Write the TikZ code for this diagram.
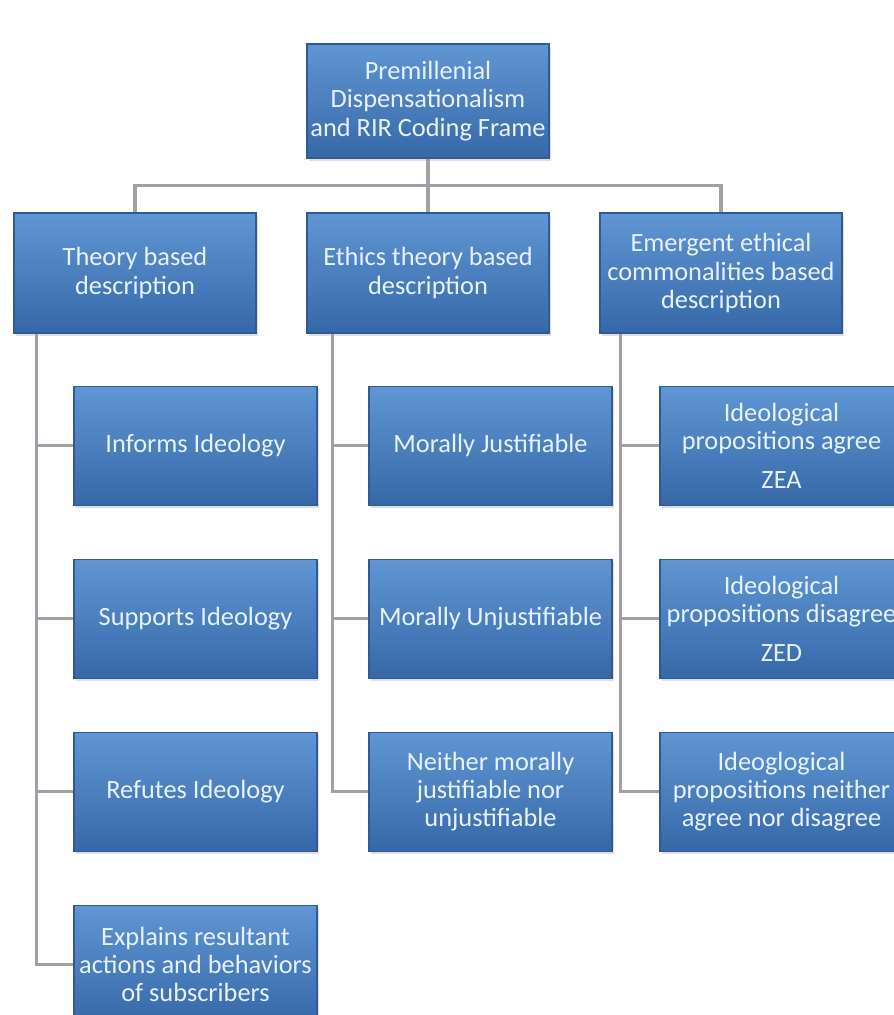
\documentclass[tikz,border=0pt]{standalone}
\usepackage{fontspec}
\setmainfont{Carlito}
\usetikzlibrary{positioning,shadows}
\definecolor{boxtop}{RGB}{96,150,212}
\definecolor{boxbot}{RGB}{54,104,168}
\definecolor{boxline}{RGB}{48,90,150}
\definecolor{boxtext}{RGB}{232,242,252}
\definecolor{linkgray}{RGB}{160,160,166}

\begin{document}
\begin{tikzpicture}[
  box/.style={rectangle, draw=boxline, line width=0.6pt,
    top color=boxtop, bottom color=boxbot, text=boxtext,
    font=\fontsize{15}{16}\selectfont, align=center, inner sep=1pt,
    minimum width=4.84cm, minimum height=2.4cm,
    drop shadow={opacity=0.25, shadow xshift=0.04cm, shadow yshift=-0.06cm}},
  leaf/.style={box, minimum width=4.86cm, minimum height=2.38cm},
  conn/.style={draw=linkgray, line width=1.8pt},
  level distance=3.44cm,
  level 1/.style={sibling distance=5.86cm},
  every child node/.style={box},
  edge from parent/.style={conn},
  edge from parent path={(\tikzparentnode.south) -- ++(0,-0.54) -| (\tikzchildnode.north)}]
  \useasboundingbox (0,0) rectangle (17.88,-20.3);
  \clip (0,0) rectangle (17.88,-20.3);

  % coding frame tree
  \node[box, minimum height=2.28cm] (frame) at (8.56,-2.02)
    {Premillenial\\Dispensationalism\\and RIR Coding Frame}
    child {node (theory) {Theory based\\description}}
    child {node (ethics) {Ethics theory based\\description}}
    child {node (emergent) {Emergent ethical\\commonalities based\\description}};

  % theory based column
  \node[leaf, below=1.04cm of theory.south west, anchor=north west, xshift=1.2cm] (informs) {Informs Ideology};
  \node[leaf, below=1.06cm of informs] (supports) {Supports Ideology};
  \node[leaf, below=1.06cm of supports] (refutes) {Refutes Ideology};
  \node[leaf, below=1.06cm of refutes] (explains) {Explains resultant\\actions and behaviors\\of subscribers};

  % ethics theory column
  \node[leaf, below=1.04cm of ethics.south west, anchor=north west, xshift=1.24cm] (just) {Morally Justifiable};
  \node[leaf, below=1.06cm of just] (unjust) {Morally Unjustifiable};
  \node[leaf, below=1.06cm of unjust] (neither) {Neither morally\\justifiable nor\\unjustifiable};

  % emergent commonalities column
  \node[leaf, below=1.04cm of emergent.south west, anchor=north west, xshift=1.2cm] (agree) {Ideological\\propositions agree\\[6pt]ZEA};
  \node[leaf, below=1.06cm of agree] (disagree) {Ideological\\propositions disagree\\[6pt]ZED};
  \node[leaf, below=1.06cm of disagree] (nomind) {Ideoglogical\\propositions neither\\agree nor disagree};

  % column connectors
  \foreach \kid in {informs,supports,refutes,explains}
    \draw[conn] ([xshift=0.46cm]theory.south west) |- (\kid.west);
  \foreach \kid in {just,unjust,neither}
    \draw[conn] ([xshift=0.52cm]ethics.south west) |- (\kid.west);
  \foreach \kid in {agree,disagree,nomind}
    \draw[conn] ([xshift=0.42cm]emergent.south west) |- (\kid.west);
\end{tikzpicture}
\end{document}
